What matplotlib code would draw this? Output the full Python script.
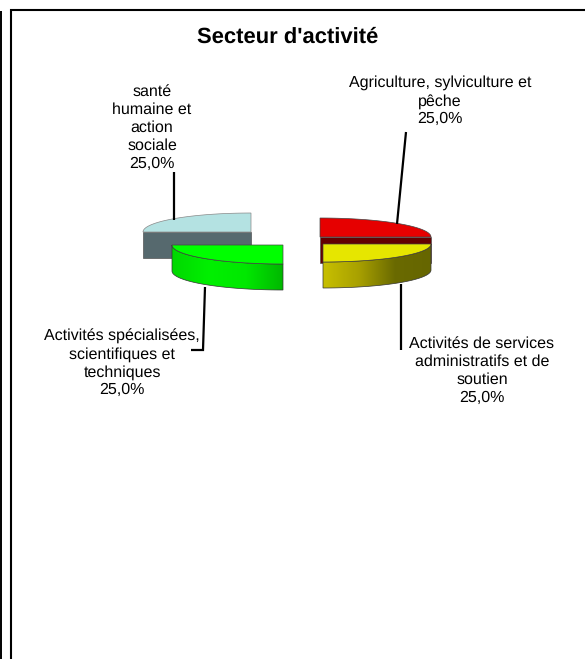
import numpy as np
import matplotlib
matplotlib.use('Agg')
import matplotlib.pyplot as plt
from matplotlib.colors import LinearSegmentedColormap
from matplotlib.patches import Polygon

plt.rcParams['font.family'] = ['Liberation Sans', 'DejaVu Sans']
plt.rcParams['text.hinting'] = 'none'

labels = ['Agriculture, sylviculture et\npêche',
          'Activités de services\nadministratifs et de\nsoutien',
          'Activités spécialisées,\nscientifiques et\ntechniques',
          'santé\nhumaine et\naction\nsociale']
values = [25, 25, 25, 25]
top_colors = ['#e60000', '#e6e600', '#00ff00', '#b4e2e2']

# exploded slice centres and pie radii, in pixels
centers = [(320, 237), (323, 244), (283, 245), (251, 232)]
radii = [(111, 19), (108, 18), (111, 19), (108, 19)]
depth = 26
label_pos = [(440, 101), (482, 371), (122, 363), (152, 128)]
leaders = [[(397, 224), (406, 132)],
           [(401, 284), (401, 350)],
           [(205, 287), (203, 350), (191, 350)],
           [(174, 220), (174, 172)]]

fig = plt.figure(figsize=(5.85, 6.59), dpi=100)
ax = fig.add_axes([0, 0, 1, 1])

# gradient stops for the curved sides
side_cmaps = [None,
              LinearSegmentedColormap.from_list('y', ['#c8c000', '#a8a000', '#6a6a00', '#666600']),
              LinearSegmentedColormap.from_list('g', ['#00d800', '#00f000', '#00e800', '#00b800']),
              None]
flat_sides = ['#640000', None, None, '#56696e']

angles = 90 - 360 * np.cumsum([0] + values) / sum(values)

# back slices first, then the front ones over them
for z, i in enumerate([3, 0, 1, 2]):
    cx, cy = centers[i]
    a, b = radii[i]
    t = np.radians(np.linspace(angles[i], angles[i + 1], 60))
    arc = np.column_stack([cx + a * np.cos(t), cy - b * np.sin(t)])
    top = np.vstack([[cx, cy], arc])

    if side_cmaps[i] is not None:
        # curved outer side, seen from the front
        side = np.vstack([arc, (arc + [0, depth])[::-1]])
        x0, x1 = side[:, 0].min(), side[:, 0].max()
        im = ax.imshow(np.linspace(0, 1, 256).reshape(1, -1), cmap=side_cmaps[i],
                       extent=(x0, x1, side[:, 1].max(), side[:, 1].min()),
                       aspect='auto', zorder=z + 1)
        patch = Polygon(side, closed=True, fc='none', ec='#333333', lw=0.5, zorder=z + 1.1)
        ax.add_patch(patch)
        im.set_clip_path(patch)
    else:
        # flat cut side, seen from the front
        xs = [cx - a if i == 3 else cx, cx if i == 3 else cx + a]
        side = [(xs[0], cy), (xs[1], cy), (xs[1], cy + depth), (xs[0], cy + depth)]
        ax.add_patch(Polygon(side, closed=True, fc=flat_sides[i], ec='#555555', lw=0.5, zorder=z + 1))

    ax.add_patch(Polygon(top, closed=True, fc=top_colors[i],
                         ec='#888888' if i == 3 else '#444444', lw=0.5, zorder=z + 1.2))

for i, pts in enumerate(leaders):
    xs, ys = zip(*pts)
    # the two lower leaders run behind their slices
    ax.plot(xs, ys, color='black', lw=1.6, solid_capstyle='butt', solid_joinstyle='miter',
            zorder=0.5 if i in (1, 2) else 6)
    pct = f'{values[i]:.1f}'.replace('.', ',') + '%'
    ax.text(label_pos[i][0], label_pos[i][1], labels[i] + '\n' + pct, ha='center', va='center',
            fontsize=11.5, linespacing=1.26, color='black', zorder=7)

ax.text(288, 37, "Secteur d'activité", ha='center', va='center', fontsize=15.8, fontweight='bold')

# frame left over from the page
ax.plot([0.8, 0.8], [11, 659], color='black', lw=1.4, solid_capstyle='butt')
ax.plot([10.8, 10.8, 585], [659, 10, 10], color='black', lw=1.5,
        solid_capstyle='butt', solid_joinstyle='miter')

ax.set_xlim(0, 585)
ax.set_ylim(659, 0)
ax.axis('off')

plt.savefig('out.png', dpi=100)
